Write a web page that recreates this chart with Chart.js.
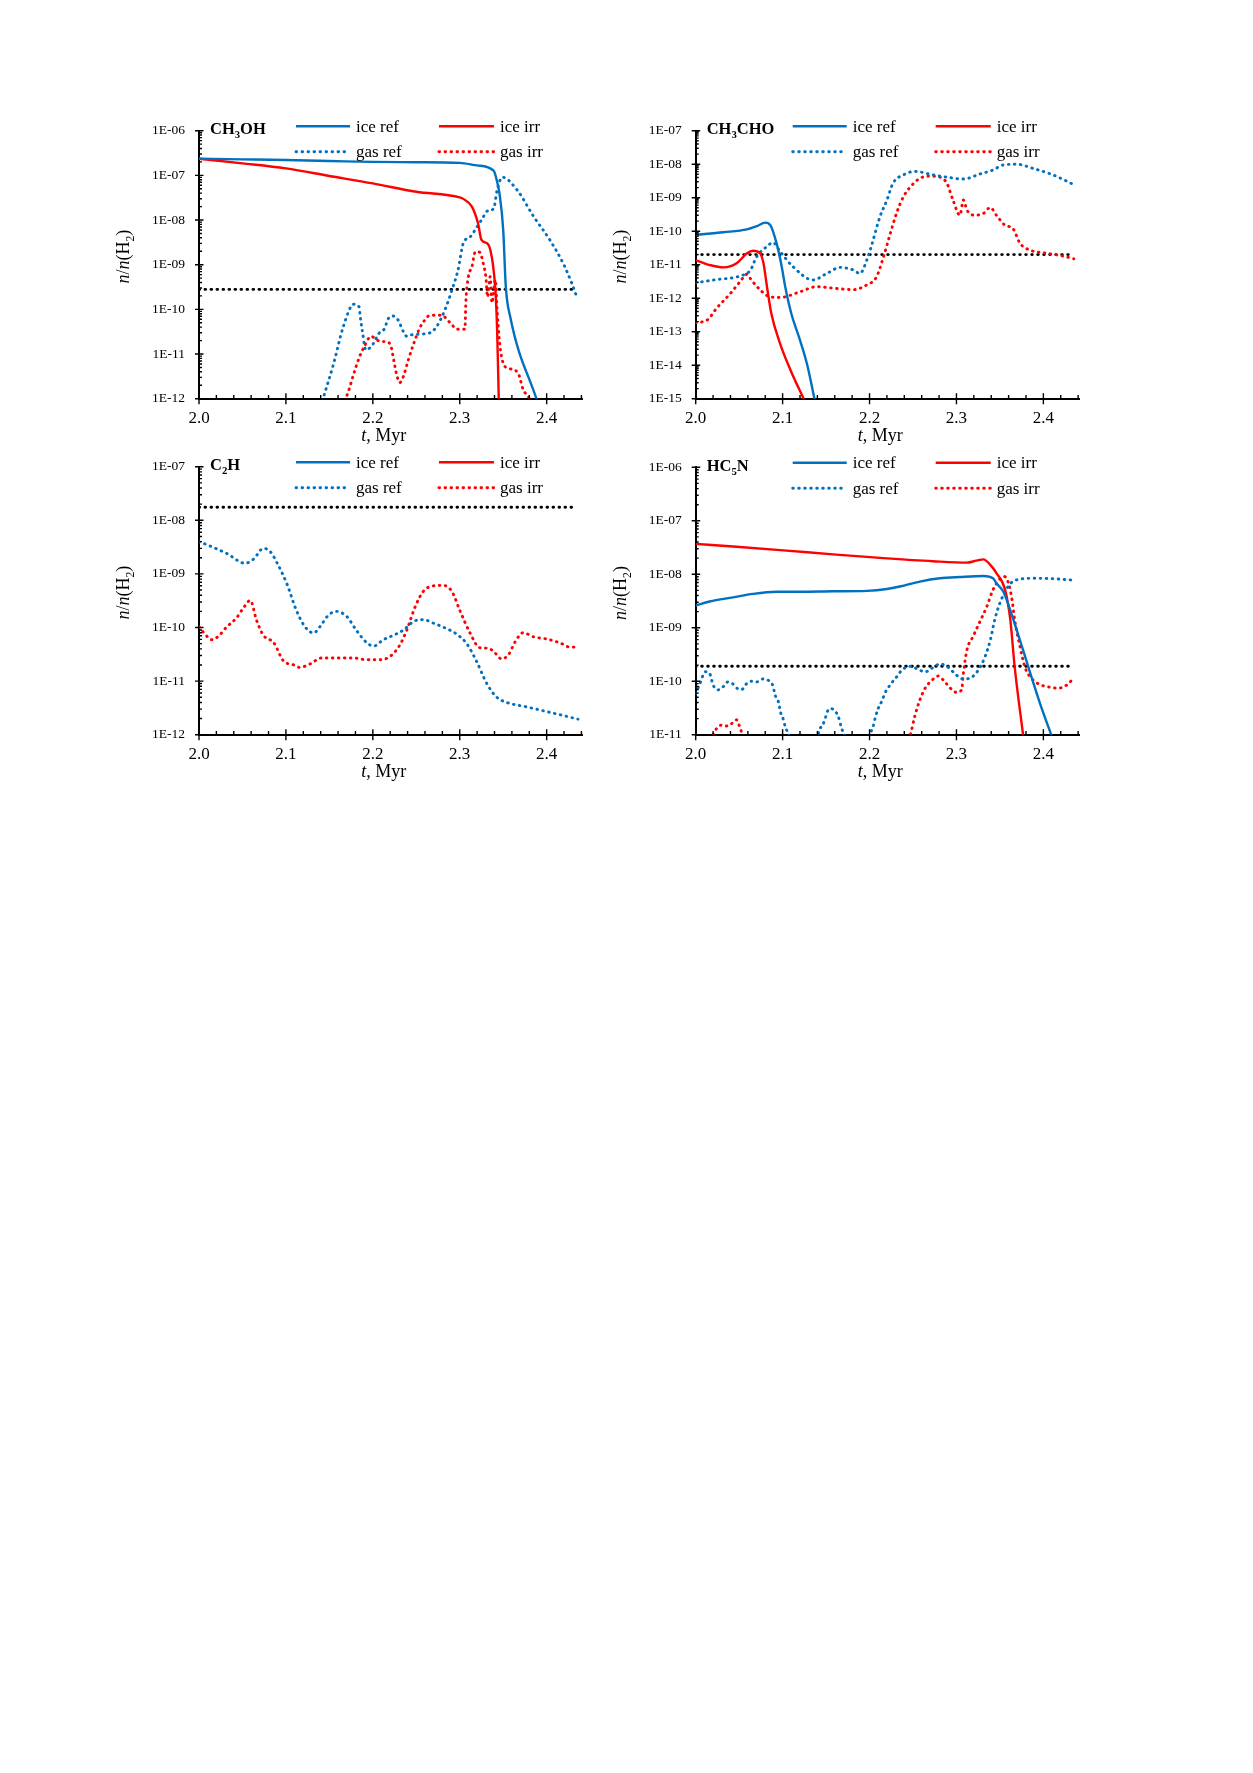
<!DOCTYPE html>
<html>
<head>
<meta charset="utf-8">
<title>Abundances vs time</title>
<script src="https://cdn.jsdelivr.net/npm/chart.js@4.4.1/dist/chart.umd.min.js"></script>
<style>
  html, body { margin: 0; padding: 0; background: #fff; }
  body { width: 1253px; height: 1773px; position: relative; }
  canvas { position: absolute; }
</style>
</head>
<body>
<canvas id="c1" width="500" height="360" style="left:100px;top:90px"></canvas>
<canvas id="c2" width="500" height="360" style="left:597px;top:90px"></canvas>
<canvas id="c3" width="500" height="360" style="left:100px;top:426px"></canvas>
<canvas id="c4" width="500" height="360" style="left:597px;top:426px"></canvas>
<script>
// ---- data ----
const xTickValues = [2.0, 2.1, 2.2, 2.3, 2.4]
const xTickLabels = ['2.0', '2.1', '2.2', '2.3', '2.4']
const legendLabels = ['ice ref', 'ice irr', 'gas ref', 'gas irr']

// CH3OH
const ch3ohYTicks = [1e-12, 1e-11, 1e-10, 1e-9, 1e-8, 1e-7, 1e-6]
const ch3ohLimit = 2.8e-10
const ch3ohIceRefT = [2.0, 2.05, 2.1, 2.15, 2.2, 2.25, 2.3, 2.32, 2.339, 2.343, 2.346, 2.35, 2.353, 2.358, 2.389]
const ch3ohIceRef = [2.36e-7, 2.28e-7, 2.2e-7, 2.1e-7, 2.0e-7, 1.97e-7, 1.9e-7, 1.67e-7, 1.27e-7, 7.2e-8, 3.6e-8, 6e-9, 3.2e-10, 6.9e-11, 9e-13]
const ch3ohIceIrrT = [2.0, 2.05, 2.1, 2.15, 2.2, 2.25, 2.3, 2.305, 2.314, 2.321, 2.325, 2.333, 2.338, 2.341, 2.343, 2.345]
const ch3ohIceIrr = [2.36e-7, 1.86e-7, 1.43e-7, 9.7e-8, 6.6e-8, 4.3e-8, 3.2e-8, 2.9e-8, 2.0e-8, 8.5e-9, 3.6e-9, 2.8e-9, 1.07e-9, 2.7e-10, 3.5e-11, 8e-13]
const ch3ohGasRefT = [2.142, 2.155, 2.166, 2.178, 2.184, 2.186, 2.188, 2.192, 2.2, 2.207, 2.213, 2.218, 2.223, 2.229, 2.235, 2.239, 2.245, 2.256, 2.266, 2.273, 2.283, 2.291, 2.298, 2.304, 2.312, 2.32, 2.325, 2.332, 2.339, 2.343, 2.349, 2.366, 2.385, 2.404, 2.419, 2.429, 2.435]
const ch3ohGasRef = [9e-13, 6.2e-12, 4.1e-11, 1.3e-10, 1.15e-10, 5.8e-11, 3.2e-11, 1.23e-11, 1.65e-11, 2.9e-11, 3.6e-11, 6.3e-11, 7.1e-11, 5.8e-11, 3.2e-11, 2.5e-11, 2.7e-11, 2.8e-11, 3e-11, 4e-11, 9.8e-11, 2.7e-10, 7.6e-10, 3e-9, 4.2e-9, 7.1e-9, 1e-8, 1.6e-8, 1.8e-8, 4.7e-8, 9.1e-8, 4.7e-8, 1.2e-8, 3.5e-9, 1.07e-9, 3.8e-10, 1.8e-10]
const ch3ohGasIrrT = [2.168, 2.173, 2.177, 2.184, 2.19, 2.198, 2.203, 2.209, 2.216, 2.221, 2.224, 2.228, 2.231, 2.235, 2.241, 2.247, 2.253, 2.259, 2.266, 2.279, 2.289, 2.297, 2.306, 2.307, 2.31, 2.314, 2.318, 2.323, 2.327, 2.33, 2.332, 2.335, 2.337, 2.341, 2.343, 2.346, 2.35, 2.356, 2.367, 2.373, 2.379, 2.383]
const ch3ohGasIrr = [9e-13, 1.7e-12, 3.1e-12, 8e-12, 1.45e-11, 2.5e-11, 2.2e-11, 1.9e-11, 1.9e-11, 1.45e-11, 7.4e-12, 3.1e-12, 2.3e-12, 3.1e-12, 7.6e-12, 1.7e-11, 3.5e-11, 5.5e-11, 7.4e-11, 7.4e-11, 5e-11, 3.6e-11, 3.6e-11, 1.4e-10, 5.4e-10, 9e-10, 1.96e-9, 1.9e-9, 1.07e-9, 5.4e-10, 1.9e-10, 5.4e-10, 1.4e-10, 4.6e-10, 9.8e-11, 1.7e-11, 6.2e-12, 4.8e-12, 3.8e-12, 1.6e-12, 1.1e-12, 8e-13]

// CH3CHO
const ch3choYTicks = [1e-15, 1e-14, 1e-13, 1e-12, 1e-11, 1e-10, 1e-9, 1e-8, 1e-7]
const ch3choLimit = 2e-11
const ch3choIceRefT = [2.0, 2.032, 2.059, 2.07, 2.08, 2.086, 2.093, 2.099, 2.103, 2.11, 2.12, 2.128, 2.137]
const ch3choIceRef = [7.8e-11, 9.3e-11, 1.13e-10, 1.4e-10, 1.8e-10, 1.5e-10, 4.4e-11, 8.7e-12, 2.2e-12, 3.5e-13, 5.6e-14, 1.1e-14, 9e-16]
const ch3choIceIrrT = [2.0, 2.016, 2.032, 2.047, 2.059, 2.066, 2.074, 2.078, 2.082, 2.087, 2.097, 2.109, 2.125]
const ch3choIceIrr = [1.37e-11, 9.8e-12, 8.3e-12, 1.1e-11, 2.2e-11, 2.6e-11, 2.2e-11, 1.1e-11, 2.2e-12, 3.5e-13, 4.5e-14, 7.2e-15, 9e-16]
const ch3choGasRefT = [2.0, 2.024, 2.051, 2.063, 2.07, 2.082, 2.089, 2.097, 2.112, 2.135, 2.151, 2.166, 2.181, 2.189, 2.197, 2.202, 2.212, 2.22, 2.227, 2.239, 2.252, 2.273, 2.289, 2.308, 2.327, 2.342, 2.354, 2.369, 2.388, 2.411, 2.436]
const ch3choGasRef = [2.9e-12, 3.6e-12, 4.6e-12, 6.9e-12, 1.7e-11, 3.5e-11, 4.6e-11, 2.5e-11, 8.7e-12, 3.5e-12, 5.5e-12, 8.3e-12, 7e-12, 5.5e-12, 1.4e-11, 3.5e-11, 2.7e-10, 8.5e-10, 2.7e-9, 4.8e-9, 6.1e-9, 4.8e-9, 4.1e-9, 3.6e-9, 5.1e-9, 6.7e-9, 9.5e-9, 1e-8, 7.5e-9, 4.8e-9, 2.4e-9]
const ch3choGasIrrT = [2.0, 2.013, 2.024, 2.04, 2.051, 2.059, 2.064, 2.074, 2.082, 2.097, 2.12, 2.139, 2.158, 2.181, 2.197, 2.208, 2.216, 2.224, 2.231, 2.239, 2.247, 2.258, 2.27, 2.281, 2.289, 2.296, 2.304, 2.308, 2.312, 2.321, 2.331, 2.339, 2.346, 2.356, 2.365, 2.373, 2.385, 2.404, 2.423, 2.435]
const ch3choGasIrr = [1.86e-13, 2.2e-13, 5e-13, 1.4e-12, 3.1e-12, 5.2e-12, 3.5e-12, 1.8e-12, 1.2e-12, 1.05e-12, 1.55e-12, 2.2e-12, 2e-12, 1.8e-12, 2.5e-12, 4.3e-12, 1.7e-11, 8.7e-11, 3.4e-10, 1.07e-9, 2.1e-9, 3.8e-9, 4.4e-9, 4.1e-9, 2.7e-9, 8.5e-10, 3e-10, 8.5e-10, 4.3e-10, 3e-10, 3.4e-10, 5.1e-10, 3e-10, 1.5e-10, 1.2e-10, 4.4e-11, 2.7e-11, 2.2e-11, 1.8e-11, 1.5e-11]

// C2H (ice curves lie below the plotted range)
const c2hYTicks = [1e-12, 1e-11, 1e-10, 1e-9, 1e-8, 1e-7]
const c2hLimit = 1.75e-8
const c2hIceRefT = []
const c2hIceRef = []
const c2hIceIrrT = []
const c2hIceIrr = []
const c2hGasRefT = [2.0, 2.013, 2.032, 2.053, 2.063, 2.074, 2.082, 2.089, 2.101, 2.112, 2.122, 2.132, 2.139, 2.149, 2.158, 2.17, 2.181, 2.193, 2.201, 2.212, 2.224, 2.235, 2.247, 2.258, 2.27, 2.285, 2.296, 2.308, 2.319, 2.331, 2.342, 2.354, 2.377, 2.4, 2.423, 2.436]
const c2hGasRef = [4e-9, 3.3e-9, 2.4e-9, 1.58e-9, 1.9e-9, 3e-9, 2.6e-9, 1.7e-9, 6.6e-10, 2.1e-10, 1.03e-10, 7.9e-11, 1.03e-10, 1.7e-10, 2e-10, 1.6e-10, 8.9e-11, 5.2e-11, 4.5e-11, 5.9e-11, 7.2e-11, 8.9e-11, 1.3e-10, 1.4e-10, 1.2e-10, 9.5e-11, 7.6e-11, 5e-11, 2.4e-11, 9.1e-12, 5.1e-12, 4e-12, 3.3e-12, 2.7e-12, 2.2e-12, 1.95e-12]
const c2hGasIrrT = [2.0, 2.005, 2.015, 2.022, 2.032, 2.043, 2.051, 2.059, 2.066, 2.074, 2.086, 2.097, 2.109, 2.116, 2.128, 2.141, 2.155, 2.178, 2.193, 2.208, 2.22, 2.231, 2.239, 2.249, 2.258, 2.27, 2.281, 2.291, 2.3, 2.312, 2.323, 2.333, 2.341, 2.348, 2.356, 2.364, 2.373, 2.385, 2.4, 2.415, 2.427, 2.436]
const c2hGasIrr = [1.03e-10, 8.2e-11, 5.9e-11, 6.8e-11, 1.03e-10, 1.5e-10, 2.3e-10, 3.2e-10, 1.4e-10, 7.2e-11, 5.2e-11, 2.4e-11, 2e-11, 1.8e-11, 2.1e-11, 2.7e-11, 2.7e-11, 2.7e-11, 2.5e-11, 2.5e-11, 2.9e-11, 4.7e-11, 8.9e-11, 2.5e-10, 4.7e-10, 6e-10, 6.1e-10, 4.7e-10, 2.1e-10, 7.8e-11, 4.2e-11, 4.1e-11, 3.3e-11, 2.6e-11, 3.1e-11, 5.5e-11, 8e-11, 6.7e-11, 6.1e-11, 5.2e-11, 4.3e-11, 4.3e-11]

// HC5N
const hc5nYTicks = [1e-11, 1e-10, 1e-9, 1e-8, 1e-7, 1e-6]
const hc5nLimit = 1.9e-10
const hc5nIceRefT = [2.0, 2.016, 2.043, 2.066, 2.093, 2.12, 2.158, 2.197, 2.22, 2.235, 2.258, 2.281, 2.304, 2.331, 2.342, 2.346, 2.354, 2.362, 2.373, 2.385, 2.396, 2.41]
const hc5nIceRef = [2.6e-9, 3.1e-9, 3.7e-9, 4.3e-9, 4.7e-9, 4.7e-9, 4.8e-9, 4.9e-9, 5.3e-9, 5.9e-9, 7.3e-9, 8.4e-9, 8.9e-9, 9.3e-9, 8.4e-9, 6.8e-9, 4.7e-9, 2.1e-9, 5.9e-10, 1.4e-10, 3.9e-11, 9e-12]
const hc5nIceIrrT = [2.0, 2.043, 2.101, 2.158, 2.216, 2.273, 2.312, 2.323, 2.331, 2.339, 2.346, 2.356, 2.362, 2.367, 2.377]
const hc5nIceIrr = [3.7e-8, 3.3e-8, 2.8e-8, 2.35e-8, 2e-8, 1.75e-8, 1.65e-8, 1.8e-8, 1.9e-8, 1.5e-8, 1.05e-8, 5.1e-9, 1.4e-9, 1.85e-10, 9e-12]
const hc5nGasRefT = [2.0, 2.005, 2.011, 2.016, 2.02, 2.026, 2.032, 2.037, 2.042, 2.048, 2.053, 2.058, 2.064, 2.07, 2.077, 2.083, 2.088, 2.092, 2.095, 2.098, 2.101, 2.103, 2.106, 2.11, 2.125, 2.139, 2.142, 2.146, 2.149, 2.151, 2.155, 2.16, 2.164, 2.168, 2.171, 2.175, 2.186, 2.197, 2.2, 2.204, 2.207, 2.21, 2.214, 2.219, 2.223, 2.227, 2.232, 2.237, 2.247, 2.258, 2.264, 2.273, 2.281, 2.291, 2.3, 2.308, 2.316, 2.325, 2.333, 2.339, 2.344, 2.35, 2.356, 2.362, 2.373, 2.388, 2.408, 2.433]
const hc5nGasRef = [5.9e-11, 9.1e-11, 1.5e-10, 1.4e-10, 8.5e-11, 6.9e-11, 8e-11, 9.7e-11, 9.1e-11, 7.3e-11, 7e-11, 8.8e-11, 1e-10, 9.7e-11, 1.1e-10, 1.05e-10, 8.8e-11, 5.2e-11, 4.2e-11, 2.5e-11, 1.9e-11, 1.4e-11, 1.1e-11, 7e-12, 3e-12, 7e-12, 1.2e-11, 1.5e-11, 2e-11, 2.6e-11, 3.1e-11, 2.8e-11, 2.2e-11, 1.3e-11, 1e-11, 6e-12, 3e-12, 7e-12, 1e-11, 1.4e-11, 2.2e-11, 3.1e-11, 4.2e-11, 6.6e-11, 8.2e-11, 1e-10, 1.25e-10, 1.6e-10, 1.9e-10, 1.6e-10, 1.5e-10, 1.8e-10, 2.1e-10, 1.8e-10, 1.3e-10, 1.1e-10, 1.15e-10, 1.6e-10, 2.9e-10, 5.9e-10, 1.4e-9, 2.9e-9, 4.7e-9, 6.7e-9, 8.1e-9, 8.4e-9, 8.3e-9, 7.8e-9]
const hc5nGasIrrT = [2.0, 2.01, 2.02, 2.024, 2.029, 2.036, 2.041, 2.047, 2.05, 2.053, 2.057, 2.07, 2.15, 2.235, 2.247, 2.252, 2.258, 2.264, 2.272, 2.279, 2.285, 2.293, 2.3, 2.306, 2.308, 2.312, 2.319, 2.327, 2.335, 2.342, 2.35, 2.355, 2.36, 2.364, 2.367, 2.373, 2.379, 2.387, 2.396, 2.408, 2.417, 2.427, 2.434]
const hc5nGasIrr = [1e-11, 6e-12, 1e-11, 1.3e-11, 1.5e-11, 1.45e-11, 1.6e-11, 1.9e-11, 1.5e-11, 1.1e-11, 8e-12, 4e-12, 2e-12, 4e-12, 1e-11, 2.2e-11, 4.5e-11, 7.4e-11, 1.05e-10, 1.25e-10, 1.05e-10, 7.4e-11, 6.2e-11, 6.9e-11, 1.4e-10, 3.8e-10, 6.8e-10, 1.3e-9, 2.5e-9, 5.1e-9, 8.2e-9, 9.1e-9, 6.7e-9, 3.3e-9, 1.4e-9, 4.5e-10, 1.8e-10, 1.1e-10, 8.7e-11, 7.7e-11, 7.4e-11, 8.5e-11, 1.1e-10]

// ---- styling ----
const BLUE = '#0070C0'
const RED = '#FF0000'
const SERIF = '"Liberation Serif", "Times New Roman", Times, serif'
const DOT = [0.6, 5.4]
const DOT_W = 2.9
const LIMIT_END = 2.433
const CANVAS_W = 500
const CANVAS_H = 360

const panels = [
    {
        canvas: 'c1', title: [['CH'], ['3', 'sub'], ['OH']], yTicks: ch3ohYTicks, limit: ch3ohLimit,
        series: [[ch3ohIceRefT, ch3ohIceRef], [ch3ohIceIrrT, ch3ohIceIrr], [ch3ohGasRefT, ch3ohGasRef], [ch3ohGasIrrT, ch3ohGasIrr]],
        box: { left: 100, top: 90, plotLeft: 199, plotTop: 130.7, plotRight: 582.3, plotBottom: 398.7 },
    },
    {
        canvas: 'c2', title: [['CH'], ['3', 'sub'], ['CHO']], yTicks: ch3choYTicks, limit: ch3choLimit,
        series: [[ch3choIceRefT, ch3choIceRef], [ch3choIceIrrT, ch3choIceIrr], [ch3choGasRefT, ch3choGasRef], [ch3choGasIrrT, ch3choGasIrr]],
        box: { left: 597, top: 90, plotLeft: 695.7, plotTop: 130.7, plotRight: 1079, plotBottom: 398.7 },
    },
    {
        canvas: 'c3', title: [['C'], ['2', 'sub'], ['H']], yTicks: c2hYTicks, limit: c2hLimit,
        series: [[c2hIceRefT, c2hIceRef], [c2hIceIrrT, c2hIceIrr], [c2hGasRefT, c2hGasRef], [c2hGasIrrT, c2hGasIrr]],
        box: { left: 100, top: 426, plotLeft: 199, plotTop: 466.7, plotRight: 582.3, plotBottom: 734.7 },
    },
    {
        canvas: 'c4', title: [['HC'], ['5', 'sub'], ['N']], yTicks: hc5nYTicks, limit: hc5nLimit,
        series: [[hc5nIceRefT, hc5nIceRef], [hc5nIceIrrT, hc5nIceIrr], [hc5nGasRefT, hc5nGasRef], [hc5nGasIrrT, hc5nGasIrr]],
        box: { left: 597, top: 426, plotLeft: 695.7, plotTop: 467.3, plotRight: 1079, plotBottom: 734.7 },
    },
]
const panelById = Object.fromEntries(panels.map(p => [p.canvas, p]))

const xTitle = [['t', 'it'], [', Myr']]
const yTitle = [['n', 'it'], ['/'], ['n', 'it'], ['(H'], ['2', 'sub'], [')']]

const sciLabel = (v) => {
    const e = Math.round(Math.log10(v))
    return '1E' + (e < 0 ? '-' : '+') + String(Math.abs(e)).padStart(2, '0')
}

// text with italic / subscript pieces, y is the baseline
function richText(ctx, parts, x, y, size, weight, align) {
    const segs = parts.map(([t, kind]) => {
        const s = kind === 'sub' ? size * 0.65 : size
        const font = `${kind === 'it' ? 'italic ' : ''}${weight} ${s}px ${SERIF}`
        ctx.font = font
        return { t, font, w: ctx.measureText(t).width, dy: kind === 'sub' ? size * 0.27 : 0 }
    })
    const total = segs.reduce((a, s) => a + s.w, 0)
    let cx = align === 'center' ? x - total / 2 : x
    ctx.textAlign = 'left'
    ctx.textBaseline = 'alphabetic'
    for (const s of segs) {
        ctx.font = s.font
        ctx.fillText(s.t, cx, y + s.dy)
        cx += s.w
    }
}

const decorPlugin = {
    id: 'decor',
    afterDraw(chart) {
        const panel = panelById[chart.canvas.id]
        const { ctx, chartArea: a, scales: { x, y } } = chart
        ctx.save()
        ctx.fillStyle = '#000'
        ctx.strokeStyle = '#000'

        // tick marks
        ctx.lineWidth = 1.4
        ctx.lineCap = 'butt'
        ctx.setLineDash([])
        ctx.beginPath()
        for (let k = 0; k <= 22; k++) {
            const px = x.getPixelForValue(2 + k * 0.02)
            const major = k % 5 === 0
            ctx.moveTo(px, a.bottom + (major ? 5.5 : 0))
            ctx.lineTo(px, a.bottom - (major ? 5.5 : 3.8))
        }
        const ticks = panel.yTicks
        ticks.forEach((v, i) => {
            const py = y.getPixelForValue(v)
            ctx.moveTo(a.left - 4, py)
            ctx.lineTo(a.left + 4.5, py)
            if (i < ticks.length - 1) {
                for (let m = 2; m <= 9; m++) {
                    const q = y.getPixelForValue(m * v)
                    ctx.moveTo(a.left, q)
                    ctx.lineTo(a.left + 3, q)
                }
            }
        })
        ctx.stroke()

        // axis titles
        richText(ctx, xTitle, (a.left + a.right) / 2 - 7, a.bottom + 42, 18, 'normal', 'center')
        ctx.save()
        ctx.translate(a.left - 69.7, (a.top + a.bottom) / 2 - 8)
        ctx.rotate(-Math.PI / 2)
        richText(ctx, yTitle, 0, 0, 18, 'normal', 'center')
        ctx.restore()

        // species name
        richText(ctx, panel.title, a.left + 11, a.top + 3.3, 16.5, 'bold', 'left')

        // legend, two columns
        const cols = [[97, 151, 157], [240, 295, 301]]
        const rows = [[-4.5, 1], [21, 26.5]]
        chart.data.datasets.slice(0, 4).forEach((ds, i) => {
            const [x1, x2, tx] = cols[i % 2]
            const [ly, ty] = rows[Math.floor(i / 2)]
            ctx.beginPath()
            ctx.strokeStyle = ds.borderColor
            ctx.lineWidth = ds.borderWidth
            ctx.lineCap = ds.borderCapStyle
            ctx.setLineDash(ds.borderDash)
            ctx.moveTo(a.left + x1, a.top + ly)
            ctx.lineTo(a.left + x2, a.top + ly)
            ctx.stroke()
            ctx.setLineDash([])
            ctx.fillStyle = '#000'
            ctx.font = `17px ${SERIF}`
            ctx.textAlign = 'left'
            ctx.textBaseline = 'alphabetic'
            ctx.fillText(ds.label, a.left + tx, a.top + ty)
        })
        ctx.restore()
    }
}

function makeChart(panel) {
    const b = panel.box
    const datasets = panel.series.map(([ts, vs], i) => ({
        label: legendLabels[i],
        data: ts.map((t, k) => ({ x: t, y: vs[k] })),
        borderColor: i % 2 === 0 ? BLUE : RED,
        borderWidth: i < 2 ? 2.4 : DOT_W,
        borderDash: i < 2 ? [] : DOT,
        borderCapStyle: i < 2 ? 'butt' : 'round',
        pointRadius: 0,
        cubicInterpolationMode: 'monotone',
        fill: false,
        clip: 0,
    }))
    datasets.push({
        label: 'limit',
        data: [{ x: 2.0, y: panel.limit }, { x: LIMIT_END, y: panel.limit }],
        borderColor: '#000',
        borderWidth: DOT_W,
        borderDash: DOT,
        borderCapStyle: 'round',
        pointRadius: 0,
        fill: false,
        clip: 0,
    })
    const yt = panel.yTicks
    return new Chart(document.getElementById(panel.canvas), {
        type: 'line',
        data: { datasets },
        options: {
            responsive: false,
            animation: false,
            events: [],
            layout: { padding: { left: 0, top: b.plotTop - b.top, right: b.left + CANVAS_W - b.plotRight, bottom: 0 } },
            plugins: { legend: { display: false }, tooltip: { enabled: false } },
            scales: {
                x: {
                    type: 'linear',
                    min: 2.0,
                    max: 2.441,
                    afterBuildTicks: (s) => { s.ticks = xTickValues.map(v => ({ value: v })) },
                    afterFit: (s) => { s.height = b.top + CANVAS_H - b.plotBottom },
                    grid: { display: false, drawTicks: false },
                    border: { display: true, color: '#000', width: 2 },
                    ticks: {
                        padding: 10, color: '#000', autoSkip: false, maxRotation: 0,
                        font: { family: SERIF, size: 17 },
                        callback: (v, i) => xTickLabels[i],
                    },
                },
                y: {
                    type: 'logarithmic',
                    min: yt[0],
                    max: yt[yt.length - 1],
                    afterBuildTicks: (s) => { s.ticks = yt.map(v => ({ value: v })) },
                    afterFit: (s) => { s.width = b.plotLeft - b.left },
                    grid: { display: false, drawTicks: false },
                    border: { display: true, color: '#000', width: 2 },
                    ticks: {
                        padding: 14, color: '#000', autoSkip: false,
                        font: { family: SERIF, size: 13.5 },
                        callback: (v) => sciLabel(v),
                    },
                },
            },
        },
        plugins: [decorPlugin],
    })
}

panels.forEach(makeChart)
</script>
</body>
</html>
